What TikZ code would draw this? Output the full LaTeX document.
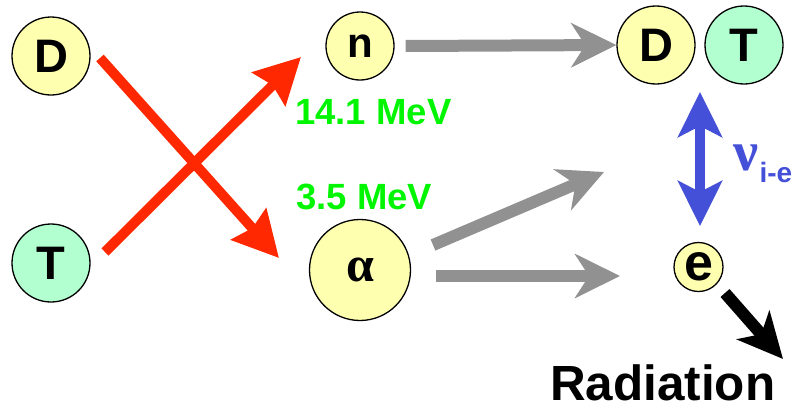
\documentclass[tikz,border=0pt]{standalone}
\usepackage{fontspec}
\setmainfont{Liberation Sans}
\newfontfamily\greekserif{Liberation Serif}
\usetikzlibrary{arrows.meta}
\definecolor{yel}{RGB}{255,255,176}
\definecolor{grn}{RGB}{178,255,208}
\definecolor{txtgreen}{RGB}{0,245,0}
\definecolor{arrred}{RGB}{255,40,0}
\definecolor{arrgray}{RGB}{145,145,145}
\definecolor{arrblue}{RGB}{68,80,216}
\tikzset{
  ball/.style={circle, draw=black, line width=1.3pt, inner sep=0pt, minimum size=#1},
  big/.style={font=\bfseries\fontsize{47}{47}\selectfont},
  redarr/.style={draw=arrred, line width=10pt, -{Stealth[length=45pt,width=46pt,inset=5pt]}},
  grayarr/.style={draw=arrgray, line width=12pt, -{Stealth[length=45pt,width=44pt,inset=14pt]}},
  bluearr/.style={draw=arrblue, line width=10pt, {Stealth[length=45pt,width=44pt,inset=11pt]}-{Stealth[length=45pt,width=44pt,inset=11pt]}},
  blackarr/.style={draw=black, line width=12pt, -{Stealth[length=45pt,width=43pt,inset=12pt]}},
  energy/.style={text=txtgreen, font=\bfseries\fontsize{36.5}{36.5}\selectfont, anchor=base west, inner sep=0pt},
}
\begin{document}
\begin{tikzpicture}[x=1pt,y=-1pt]
\useasboundingbox (0,0) rectangle (797,407);
% particles
\node[ball=78pt, fill=yel, big] (D1) at (51,56) {D};
\node[ball=78pt, fill=grn, big] (T1) at (51,263) {T};
\node[ball=68pt, fill=yel, font=\bfseries\fontsize{42}{42}\selectfont] (n) at (360,46) {n};
\node[ball=101pt, fill=yel, font=\greekserif\bfseries\fontsize{50}{50}\selectfont] (al) at (360,270) {α};
\node[ball=78pt, fill=yel, big] (D2) at (656,45) {D};
\node[ball=78pt, fill=grn, big] (T2) at (744,45) {T};
\node[ball=49pt, fill=yel, font=\bfseries\fontsize{52}{52}\selectfont] (e) at (698.5,267) {e};
% arrow end points
\coordinate (r1s) at (100,58);
\coordinate (r1e) at (279,258);
\coordinate (r2s) at (105,252);
\coordinate (r2e) at (301,57);
\coordinate (g2s) at (433,245);
\coordinate (g2e) at (604,172);
\coordinate (g3s) at (436,276);
\coordinate (g3e) at (620,276);
\coordinate (bus) at (700,92);
\coordinate (bue) at (700,226);
\coordinate (ks) at (725,293);
\coordinate (ke) at (783,359);
% connectors
\draw[redarr] (r1s) -- (r1e);
\draw[redarr] (r2s) -- (r2e);
\draw[grayarr] ([xshift=11pt]n.east) -- (D2.west);
\draw[grayarr] (g2s) -- (g2e);
\draw[grayarr] (g3s) -- (g3e);
\draw[bluearr] (bus) -- (bue);
\draw[blackarr] (ks) -- (ke);
% labels
\node[energy] (E1) at (295,124) {14.1 MeV};
\node[energy] (E2) at (296,209) {3.5 MeV};
\node[anchor=base west, inner sep=0pt, text=arrblue, font=\greekserif\bfseries\fontsize{56}{56}\selectfont] (nu) at (733,170) {ν};
\node[anchor=base west, inner sep=0pt, text=arrblue, font=\bfseries\fontsize{28}{28}\selectfont] (sub) at ([xshift=1pt,yshift=-12pt]nu.base east) {i-e};
\node[anchor=base west, inner sep=0pt, font=\bfseries\fontsize{49.4}{49.4}\selectfont] (rad) at (550,400) {Radiation};
\end{tikzpicture}
\end{document}
